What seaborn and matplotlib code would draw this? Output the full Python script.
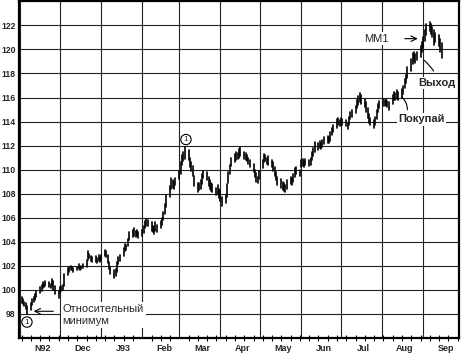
import pandas as pd
import matplotlib
matplotlib.use("Agg")
import matplotlib.pyplot as plt
import matplotlib.dates as mdates
from matplotlib.ticker import FixedLocator, NullFormatter
import seaborn as sns

# ---- daily highs / lows (business days) ----
nov_hi = [99.4, 99.2, 99.0, 98.9, 98.6, 98.9, 99.2, 99.4, 99.6, 99.9, 100.2,
          100.4, 100.6, 100.5, 100.7, 100.6, 100.5, 100.9, 100.7, 100.3, 99.9]
nov_lo = [98.9, 98.8, 98.6, 98.4, 98.0, 98.3, 98.7, 99.0, 99.1, 99.4, 99.7,
          99.9, 100.1, 100.2, 100.3, 100.2, 100.1, 100.3, 100.0, 99.6, 99.3]
dec_hi = [100.2, 100.3, 100.4, 101.3, 101.8, 101.9, 102.0, 101.9, 101.8, 101.9, 102.1,
          101.9, 102.0, 102.1, 102.5, 103.2, 103.0, 102.8, 102.7, 102.8, 102.6, 102.9, 102.7]
dec_lo = [99.7, 99.9, 100.0, 100.3, 101.2, 101.5, 101.6, 101.6, 101.5, 101.6, 101.7,
          101.6, 101.7, 101.8, 101.9, 102.5, 102.6, 102.4, 102.3, 102.3, 102.2, 102.4, 102.3]
jan_hi = [102.9, 103.3, 103.2, 102.9, 102.3, 101.9, 101.6, 101.7, 102.3, 102.7, 102.9,
          103.5, 103.8, 103.7, 104.2, 104.8, 105.0, 105.1, 104.9, 105.0, 104.8]
jan_lo = [102.5, 102.8, 102.7, 102.2, 101.7, 101.3, 101.0, 101.1, 101.5, 102.1, 102.4,
          102.8, 103.2, 103.3, 103.6, 104.1, 104.4, 104.5, 104.4, 104.5, 104.3]
feb_hi = [105.0, 105.3, 105.7, 105.9, 105.8, 105.6, 105.3, 105.2, 105.6, 105.4,
          105.7, 106.0, 106.5, 107.1, 107.9, 108.6, 109.3, 109.1, 109.0, 109.3]
feb_lo = [104.5, 104.7, 105.1, 105.3, 105.3, 104.9, 104.8, 104.6, 104.9, 104.8,
          105.1, 105.4, 105.8, 106.3, 106.9, 107.7, 108.4, 108.5, 108.4, 108.7]
mar_hi = [109.9, 110.6, 111.2, 111.5, 111.9, 111.6, 111.0, 110.6, 110.3, 109.5, 108.9, 108.9,
          109.1, 109.6, 109.9, 109.8, 109.4, 109.1, 108.9, 108.8, 108.5, 108.7, 108.4]
mar_lo = [109.2, 109.6, 110.4, 110.7, 110.9, 110.8, 110.2, 109.9, 109.5, 108.6, 108.1, 108.3,
          108.4, 108.8, 109.3, 109.1, 108.6, 108.4, 108.2, 108.1, 107.9, 108.0, 107.6]
apr_hi = [108.2, 107.7, 107.9, 108.8, 109.8, 110.4, 111.0, 111.3, 111.5, 111.4, 111.7,
          111.9, 111.5, 111.4, 111.2, 111.0, 110.8, 110.5, 110.0, 109.7, 109.4, 109.9]
apr_lo = [107.4, 107.0, 107.2, 107.7, 108.9, 109.6, 110.3, 110.6, 110.8, 110.9, 111.0,
          111.1, 110.9, 110.8, 110.7, 110.5, 110.2, 109.8, 109.4, 109.0, 108.9, 109.2]
may_hi = [110.8, 111.3, 111.2, 111.0, 111.1, 110.8, 110.6, 110.2, 109.8, 109.4, 109.2,
          109.0, 108.9, 108.7, 109.1, 109.4, 109.3, 109.6, 110.1, 110.2, 110.0]
may_lo = [110.1, 110.6, 110.7, 110.5, 110.4, 110.2, 109.9, 109.5, 109.1, 108.7, 108.5,
          108.3, 108.2, 108.1, 108.4, 108.8, 108.7, 109.0, 109.4, 109.6, 109.5]
jun_hi = [110.8, 110.9, 110.7, 110.9, 110.8, 111.0, 111.5, 111.8, 112.3, 112.2, 112.4,
          112.2, 112.5, 112.7, 112.8, 112.7, 113.1, 113.5, 113.7, 114.2, 114.3, 114.1]
jun_lo = [110.2, 110.3, 110.2, 110.4, 110.3, 110.4, 110.8, 111.1, 111.5, 111.6, 111.8,
          111.7, 111.9, 112.1, 112.2, 112.2, 112.4, 112.9, 113.1, 113.5, 113.7, 113.6]
jul_hi = [114.3, 114.2, 114.1, 113.9, 114.4, 114.8, 115.0, 115.3, 115.8, 116.1, 116.4,
          116.2, 115.9, 115.6, 115.1, 114.6, 114.3, 114.1, 114.4, 115.0, 115.5, 115.7]
jul_lo = [113.7, 113.7, 113.6, 113.4, 113.7, 114.2, 114.4, 114.7, 115.1, 115.4, 115.6,
          115.5, 115.2, 114.8, 114.3, 113.9, 113.7, 113.5, 113.7, 114.2, 114.8, 115.1]
aug_hi = [115.9, 115.8, 115.9, 115.7, 115.6, 116.2, 116.5, 116.4, 116.6, 116.5, 116.7,
          117.0, 117.5, 117.9, 118.5, 119.2, 119.7, 119.8, 119.6, 119.8, 120.3, 120.6]
aug_lo = [115.3, 115.3, 115.4, 115.2, 115.0, 115.5, 115.8, 115.8, 115.9, 115.8, 116.0,
          116.3, 116.8, 117.2, 117.6, 118.2, 118.8, 119.0, 118.9, 119.1, 119.4, 119.8]
sep_hi = [121.0, 121.6, 122.1, 122.3, 122.1, 121.9, 121.6, 121.4, 121.2, 120.9, 120.5]
sep_lo = [120.2, 120.7, 121.2, 121.5, 121.3, 121.0, 120.4, 120.6, 120.3, 119.8, 119.3]

month_labels = ["N92", "Dec", "J93", "Feb", "Mar", "Apr", "May", "Jun", "Jul", "Aug", "Sep"]
y_ticks = list(range(98, 123, 2))

highs = (nov_hi + dec_hi + jan_hi + feb_hi + mar_hi + apr_hi + may_hi + jun_hi
         + jul_hi + aug_hi + sep_hi)
lows = (nov_lo + dec_lo + jan_lo + feb_lo + mar_lo + apr_lo + may_lo + jun_lo
        + jul_lo + aug_lo + sep_lo)
dates = pd.bdate_range("1992-11-02", "1993-09-15")
assert len(dates) == len(highs) == len(lows)

# long form: each bar is one "unit" with two points (low, high)
bars = pd.DataFrame({"date": list(dates) * 2,
                     "price": lows + highs,
                     "bar": list(range(len(dates))) * 2})

# ================================
# Plot
# ================================
sns.set_style("white")
plt.rcParams["font.family"] = ["Liberation Sans", "DejaVu Sans"]

fig = plt.figure(figsize=(4.61, 3.60), dpi=100)
ax = fig.add_axes([0.0412, 0.062, 0.9544, 0.934])

sns.lineplot(data=bars, x="date", y="price", units="bar", estimator=None,
             color="black", lw=1.2, ax=ax, legend=False)

ax.set_xlim(pd.Timestamp("1992-10-31"), pd.Timestamp("1993-09-28"))
ax.set_ylim(96, 124)
ax.set_xlabel("")
ax.set_ylabel("")

# y axis
ax.yaxis.set_major_locator(FixedLocator(y_ticks))
ax.tick_params(axis="y", which="major", direction="out", length=2, width=1,
               pad=0.4, labelsize=6.2, color="black")
for lab in ax.get_yticklabels():
    lab.set_fontweight("bold")

# x axis: month boundaries + weekly ticks, labels mid-month
ax.xaxis.set_major_locator(mdates.MonthLocator(bymonthday=1))
ax.xaxis.set_major_formatter(NullFormatter())
ax.xaxis.set_minor_locator(mdates.WeekdayLocator(byweekday=mdates.MO))
ax.tick_params(axis="x", which="major", direction="inout", length=7, width=1, color="black")
ax.tick_params(axis="x", which="minor", direction="inout", length=4, width=0.8, color="black",
               bottom=True)

label_pos = pd.date_range("1992-11-01", periods=len(month_labels), freq="MS") + pd.Timedelta(days=17)
for d, lab in zip(label_pos, month_labels):
    ax.text(d, -0.018, lab, transform=ax.get_xaxis_transform(), ha="center", va="top",
            fontsize=6.5, fontweight="bold")

ax.grid(True, which="major", color="#222222", lw=0.8)
for s in ax.spines.values():
    s.set_visible(True)
    s.set_color("black")
    s.set_linewidth(1.6)

# ================================
# Annotations
# ================================
circ = dict(boxstyle="circle,pad=0.2", fc="white", ec="black", lw=0.8)
ax.text(pd.Timestamp("1992-11-06"), 97.3, "1", fontsize=6, ha="center", va="center", bbox=circ)
ax.text(pd.Timestamp("1993-03-06"), 112.5, "1", fontsize=6, ha="center", va="center", bbox=circ)

ax.text(pd.Timestamp("1992-12-03"), 97.9, "Относительный\nминимум", fontsize=8,
        ha="left", va="center", linespacing=1.25,
        bbox=dict(fc="white", ec="none", pad=1.5))
ax.annotate("", xy=(pd.Timestamp("1992-11-09"), 98.2), xytext=(pd.Timestamp("1992-11-28"), 98.2),
            arrowprops=dict(arrowstyle="->", color="black", lw=0.8))

ax.text(pd.Timestamp("1993-07-28"), 120.9, "MM1", fontsize=8, ha="center", va="center",
        bbox=dict(fc="white", ec="none", pad=1))
ax.annotate("", xy=(pd.Timestamp("1993-08-30"), 120.9), xytext=(pd.Timestamp("1993-08-16"), 120.9),
            arrowprops=dict(arrowstyle="->", color="black", lw=0.8))

ax.text(pd.Timestamp("1993-09-11"), 117.2, "Выход", fontsize=8, fontweight="bold",
        ha="center", va="center", bbox=dict(fc="white", ec="none", pad=1))
ax.annotate("", xy=(pd.Timestamp("1993-08-31"), 119.25), xytext=(pd.Timestamp("1993-09-10"), 118.0),
            arrowprops=dict(arrowstyle="-", color="black", lw=0.8,
                            connectionstyle="arc3,rad=0.1"))

ax.text(pd.Timestamp("1993-08-31"), 114.17, "Покупай", fontsize=8, fontweight="bold",
        ha="center", va="center", bbox=dict(fc="white", ec="none", pad=1))
ax.annotate("", xy=(pd.Timestamp("1993-08-14"), 116.2), xytext=(pd.Timestamp("1993-08-20"), 114.75),
            arrowprops=dict(arrowstyle="-", color="black", lw=0.8,
                            connectionstyle="arc3,rad=0.3"))

fig.savefig("out.png", dpi=100)
